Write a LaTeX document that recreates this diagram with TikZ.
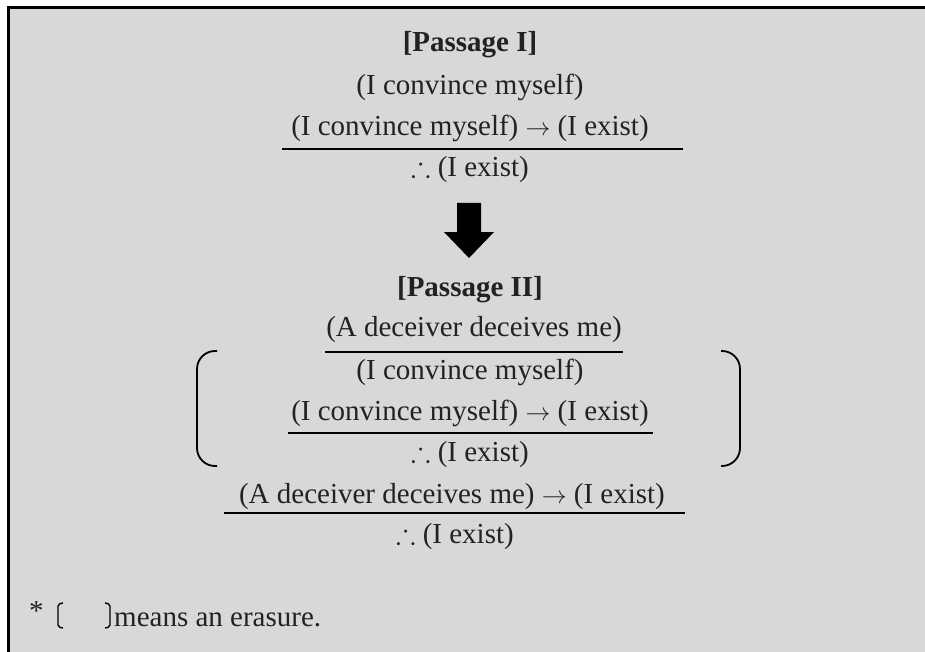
\documentclass[tikz,border=0pt]{standalone}
\usepackage{fontspec}
\usepackage{amssymb}
\setmainfont{Liberation Serif}
\definecolor{panel}{RGB}{217,216,214}
\definecolor{ink}{RGB}{35,33,33}

\begin{document}
\begin{tikzpicture}[x=1pt, y=-1pt,
every node/.style={font=\fontsize{29}{35}\selectfont, text=ink, inner sep=0pt},
head/.style={font=\fontsize{29}{35}\selectfont\bfseries},
bar/.style={line width=2.2pt},
brk/.style={line width=1.8pt, rounded corners=18pt},
smallbrk/.style={line width=1.4pt, rounded corners=2pt}
]
\useasboundingbox (0,0) rectangle (925,652);
\fill[panel] (8,8) rectangle (925,652);
\draw[line width=3pt] (8,652) -- (8,8) -- (925,8);

% Passage I
\node[head] (titlei) at (470,45) {[Passage I]};
\node (conva) at (470,87) {(I convince myself)};
\node (conda) at (470,128) {(I convince myself) \(\rightarrow\) (I exist)};
\node (exista) at (470,170) {\(\therefore\) (I exist)};
\draw[bar] (282,149) -- (683,149);

% big arrow
\fill (457,203) -- (481,203) -- (481,232) -- (494,232) -- (469,258)
 -- (444,232) -- (457,232) -- cycle;

% Passage II
\node[head] (titleii) at (470,290) {[Passage II]};
\node (decv) at (474,330) {(A deceiver deceives me)};
\node (convb) at (470,372) {(I convince myself)};
\node (condb) at (470,413) {(I convince myself) \(\rightarrow\) (I exist)};
\node (existb) at (470,455) {\(\therefore\) (I exist)};
\node (condc) at (452,497) {(A deceiver deceives me) \(\rightarrow\) (I exist)};
\node (existc) at (455,537) {\(\therefore\) (I exist)};
\draw[bar] (325,352) -- (623,352);
\draw[bar] (288,433) -- (653,433);
\draw[bar] (224,513) -- (685,513);

\draw[brk] (217,351) -- (197,351) -- (197,466) -- (217,466);
\draw[brk] (721,351) -- (740,351) -- (740,466) -- (721,466);

% footnote
\node[anchor=base west] (star) at (29,626) {\raisebox{6pt}{*}};
\draw[smallbrk] (63,603) -- (58,604) -- (58,627) -- (63,628);
\draw[smallbrk] (105,603) -- (110,604) -- (110,627) -- (105,628);
\node[anchor=base west] (note) at (114,626) {means an erasure.};
\end{tikzpicture}
\end{document}
